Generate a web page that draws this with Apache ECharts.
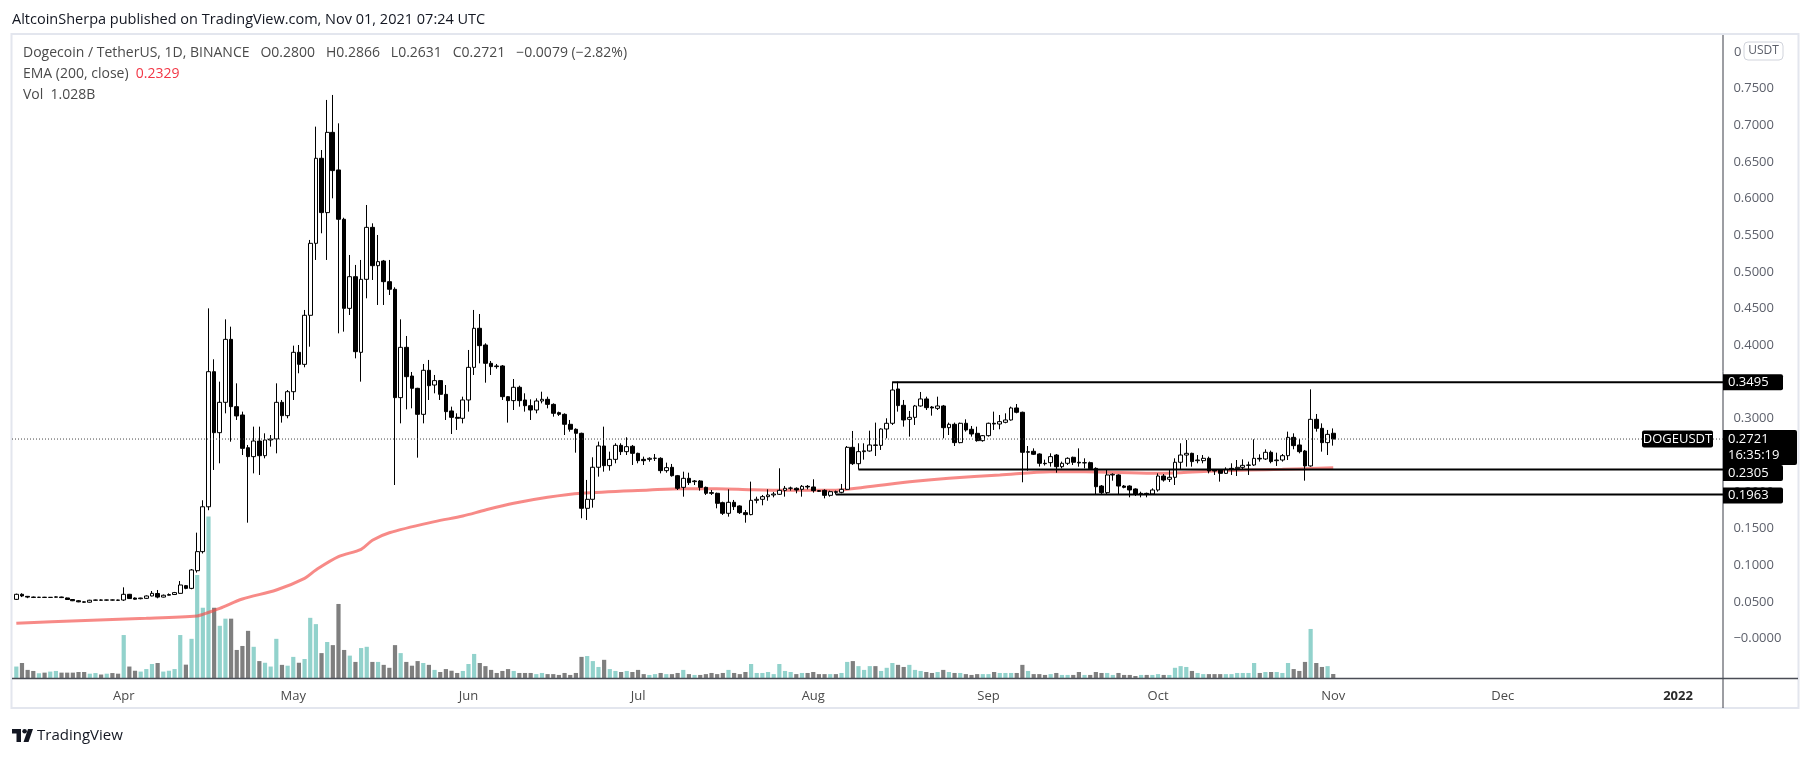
<!DOCTYPE html>
<html><head><meta charset="utf-8">
<script src="https://cdn.jsdelivr.net/npm/echarts@6/dist/echarts.min.js"></script>
<style>html,body{margin:0;padding:0;background:#fff;}#c{width:1813px;height:757px;}</style>
</head><body><div id="c"></div>
<script>
// ---------- data ----------
const startDate = [2021, 2, 13];   // 13 Mar 2021 (first candle)
const totalDays = 302;             // category slots up to 8 Jan 2022
const monthNames = ['Jan','Feb','Mar','Apr','May','Jun','Jul','Aug','Sep','Oct','Nov','Dec'];

const open = [
0.0534,0.0603,0.0575,0.0565,0.0561,0.0563,0.0560,0.0563,0.0566,0.0553,
0.0532,0.0515,0.0500,0.0495,0.0522,0.0525,0.0523,0.0526,0.0524,0.0525,
0.0603,0.0552,0.0543,0.0548,0.0580,0.0614,0.0565,0.0590,0.0600,0.0616,
0.0721,0.0684,0.0925,0.1185,0.1797,0.3640,0.2808,0.3222,0.4081,0.3163,
0.3049,0.2603,0.2481,0.2694,0.2494,0.2708,0.2722,0.3222,0.3040,0.3367,
0.3904,0.3740,0.4409,0.5391,0.6551,0.5810,0.6905,0.6392,0.5719,0.4504,
0.4936,0.3904,0.4900,0.5609,0.5086,0.5150,0.4868,0.4764,0.3286,0.3972,
0.3581,0.3413,0.3058,0.3659,0.3458,0.3518,0.3331,0.3104,0.3017,0.3004,
0.3254,0.3699,0.4232,0.4004,0.3754,0.3718,0.3718,0.3299,0.3245,0.3427,
0.3254,0.3176,0.3117,0.3240,0.3263,0.3194,0.3081,0.3058,0.2922,0.2854,
0.2799,0.1776,0.1899,0.2336,0.2626,0.2358,0.2444,0.2635,0.2549,0.2622,
0.2526,0.2444,0.2444,0.2458,0.2458,0.2290,0.2335,0.2221,0.2062,0.2185,
0.2140,0.2149,0.2062,0.1990,0.1981,0.1853,0.1708,0.1858,0.1808,0.1717,
0.1690,0.1885,0.1899,0.1935,0.1958,0.1967,0.2021,0.2049,0.2049,0.2035,
0.2076,0.2067,0.2017,0.2021,0.1953,0.2003,0.1994,0.2035,0.2608,0.2385,
0.2549,0.2558,0.2640,0.2635,0.2858,0.2936,0.3404,0.3181,0.2990,0.3017,
0.3172,0.3268,0.3158,0.3140,0.3172,0.2876,0.2922,0.2672,0.2936,0.2854,
0.2799,0.2699,0.2767,0.2936,0.2926,0.2949,0.2981,0.3145,0.3086,0.2540,
0.2554,0.2517,0.2390,0.2399,0.2503,0.2344,0.2390,0.2472,0.2404,0.2395,
0.2399,0.2321,0.2080,0.1990,0.2231,0.2231,0.2080,0.2080,0.2040,0.1971,
0.1980,0.1971,0.2026,0.2217,0.2172,0.2199,0.2404,0.2503,0.2526,0.2426,
0.2426,0.2458,0.2299,0.2299,0.2253,0.2312,0.2317,0.2335,0.2362,0.2367,
0.2458,0.2449,0.2540,0.2426,0.2435,0.2494,0.2744,0.2640,0.2558,0.2354,
0.2990,0.2867,0.2672,0.2800];

const high = [
0.0612,0.0617,0.0580,0.0572,0.0568,0.0568,0.0566,0.0575,0.0570,0.0558,
0.0537,0.0525,0.0507,0.0528,0.0530,0.0532,0.0530,0.0532,0.0530,0.0698,
0.0608,0.0560,0.0556,0.0588,0.0648,0.0662,0.0600,0.0615,0.0635,0.0784,
0.0730,0.0948,0.1444,0.1886,0.4504,0.3809,0.3504,0.4354,0.4254,0.3481,
0.3095,0.2640,0.2890,0.2890,0.2799,0.2776,0.3481,0.3254,0.3390,0.3995,
0.4004,0.4482,0.5437,0.6983,0.6664,0.7347,0.7415,0.7028,0.5740,0.5232,
0.5096,0.5164,0.5914,0.5664,0.5505,0.5164,0.5164,0.4791,0.4354,0.4127,
0.3636,0.3420,0.3745,0.3800,0.3595,0.3527,0.3458,0.3163,0.3072,0.3299,
0.3936,0.4482,0.4427,0.4027,0.3786,0.3745,0.3731,0.3308,0.3540,0.3449,
0.3345,0.3263,0.3276,0.3367,0.3299,0.3208,0.3095,0.3072,0.2981,0.2867,
0.2808,0.2163,0.2472,0.2686,0.2890,0.2549,0.2663,0.2663,0.2745,0.2640,
0.2535,0.2481,0.2472,0.2517,0.2472,0.2399,0.2381,0.2231,0.2276,0.2262,
0.2162,0.2162,0.2072,0.2026,0.1990,0.1867,0.2035,0.1890,0.1817,0.1753,
0.2140,0.1935,0.1958,0.2035,0.1999,0.2322,0.2081,0.2072,0.2062,0.2094,
0.2094,0.2172,0.2026,0.2035,0.2017,0.2017,0.2108,0.2626,0.2831,0.2663,
0.2663,0.2835,0.2945,0.2867,0.3004,0.3504,0.3504,0.3254,0.3104,0.3186,
0.3363,0.3299,0.3172,0.3299,0.3186,0.2945,0.2945,0.2945,0.2990,0.2899,
0.2890,0.2776,0.2945,0.3095,0.3049,0.3072,0.3163,0.3199,0.3095,0.2626,
0.2594,0.2526,0.2440,0.2526,0.2517,0.2413,0.2472,0.2481,0.2594,0.2458,
0.2413,0.2335,0.2094,0.2308,0.2253,0.2240,0.2094,0.2090,0.2049,0.2003,
0.1990,0.2049,0.2253,0.2244,0.2299,0.2458,0.2663,0.2708,0.2535,0.2503,
0.2503,0.2481,0.2308,0.2308,0.2335,0.2390,0.2435,0.2444,0.2413,0.2717,
0.2513,0.2581,0.2563,0.2535,0.2517,0.2822,0.2799,0.2722,0.2572,0.3399,
0.3063,0.2935,0.2845,0.2866];

const low = [
0.0525,0.0565,0.0550,0.0552,0.0553,0.0555,0.0554,0.0558,0.0552,0.0528,
0.0510,0.0495,0.0487,0.0490,0.0515,0.0518,0.0515,0.0518,0.0512,0.0512,
0.0540,0.0530,0.0535,0.0540,0.0575,0.0548,0.0560,0.0585,0.0595,0.0610,
0.0672,0.0672,0.0899,0.1160,0.1750,0.2299,0.2390,0.3072,0.2685,0.2981,
0.2503,0.1580,0.2253,0.2231,0.2458,0.2617,0.2526,0.2945,0.3004,0.3254,
0.3618,0.3700,0.3981,0.5164,0.5528,0.5164,0.6005,0.4163,0.4186,0.4413,
0.3822,0.3504,0.4641,0.4891,0.4550,0.4550,0.4686,0.2094,0.2935,0.3126,
0.3140,0.2467,0.2935,0.3254,0.3345,0.3254,0.2981,0.2790,0.2845,0.2935,
0.3095,0.3595,0.3754,0.3490,0.3595,0.3680,0.3254,0.2945,0.3117,0.3163,
0.3095,0.2981,0.3072,0.3208,0.3140,0.3026,0.3036,0.2776,0.2822,0.2535,
0.1640,0.1617,0.1785,0.2208,0.2276,0.2290,0.2390,0.2503,0.2503,0.2367,
0.2390,0.2367,0.2413,0.2422,0.2253,0.2262,0.2208,0.2026,0.1935,0.2094,
0.2094,0.2017,0.1958,0.1958,0.1776,0.1685,0.1662,0.1753,0.1699,0.1580,
0.1681,0.1844,0.1817,0.1880,0.1926,0.1958,0.1935,0.2017,0.1981,0.1935,
0.2035,0.1990,0.1999,0.1912,0.1935,0.1963,0.1981,0.2026,0.2367,0.2305,
0.2440,0.2549,0.2490,0.2572,0.2731,0.2913,0.3095,0.2890,0.2754,0.2913,
0.3163,0.3117,0.3040,0.3117,0.2731,0.2776,0.2626,0.2663,0.2822,0.2754,
0.2685,0.2685,0.2754,0.2845,0.2854,0.2936,0.2972,0.3072,0.2131,0.2290,
0.2503,0.2345,0.2360,0.2344,0.2262,0.2321,0.2367,0.2367,0.2344,0.2321,
0.2299,0.1971,0.1971,0.1971,0.2153,0.1971,0.2049,0.1926,0.1944,0.1926,
0.1926,0.1962,0.2003,0.2140,0.2135,0.2094,0.2299,0.2344,0.2344,0.2390,
0.2390,0.2253,0.2231,0.2140,0.2244,0.2231,0.2217,0.2308,0.2231,0.2354,
0.2413,0.2435,0.2390,0.2354,0.2413,0.2435,0.2581,0.2526,0.2153,0.2344,
0.2822,0.2549,0.2503,0.2631];

const close = [
0.0603,0.0580,0.0565,0.0561,0.0563,0.0560,0.0562,0.0568,0.0558,0.0532,
0.0515,0.0500,0.0495,0.0522,0.0525,0.0523,0.0526,0.0524,0.0522,0.0603,
0.0545,0.0536,0.0552,0.0580,0.0616,0.0565,0.0590,0.0600,0.0626,0.0730,
0.0684,0.0935,0.1185,0.1797,0.3640,0.2808,0.3222,0.4081,0.3163,0.3036,
0.2594,0.2481,0.2694,0.2494,0.2708,0.2722,0.3222,0.3040,0.3367,0.3904,
0.3740,0.4409,0.5391,0.6551,0.5810,0.6905,0.6383,0.5719,0.4504,0.4936,
0.3913,0.4900,0.5609,0.5086,0.5141,0.4868,0.4764,0.3286,0.3972,0.3572,
0.3413,0.3058,0.3659,0.3449,0.3518,0.3331,0.3095,0.3017,0.3004,0.3254,
0.3699,0.4232,0.3995,0.3754,0.3709,0.3709,0.3299,0.3245,0.3427,0.3245,
0.3176,0.3117,0.3240,0.3263,0.3194,0.3072,0.3058,0.2922,0.2854,0.2799,
0.1776,0.1899,0.2336,0.2627,0.2358,0.2444,0.2635,0.2549,0.2617,0.2526,
0.2426,0.2426,0.2458,0.2460,0.2290,0.2331,0.2221,0.2049,0.2185,0.2126,
0.2149,0.2062,0.1981,0.1981,0.1844,0.1708,0.1858,0.1799,0.1717,0.1690,
0.1885,0.1899,0.1935,0.1958,0.1971,0.2021,0.2049,0.2053,0.2026,0.2076,
0.2067,0.2017,0.2008,0.1953,0.2003,0.1994,0.2035,0.2608,0.2385,0.2549,
0.2560,0.2640,0.2635,0.2858,0.2936,0.3390,0.3177,0.2981,0.3017,0.3172,
0.3268,0.3149,0.3145,0.3172,0.2876,0.2922,0.2672,0.2936,0.2845,0.2790,
0.2699,0.2767,0.2936,0.2926,0.2958,0.2981,0.3145,0.3086,0.2540,0.2549,
0.2513,0.2390,0.2385,0.2481,0.2344,0.2390,0.2458,0.2404,0.2395,0.2399,
0.2317,0.2071,0.1990,0.2231,0.2240,0.2080,0.2062,0.2026,0.1971,0.1980,
0.1971,0.2026,0.2217,0.2162,0.2199,0.2404,0.2503,0.2526,0.2413,0.2435,
0.2458,0.2285,0.2285,0.2253,0.2308,0.2321,0.2335,0.2362,0.2367,0.2458,
0.2449,0.2540,0.2413,0.2435,0.2494,0.2744,0.2631,0.2549,0.2354,0.2990,
0.2867,0.2672,0.2785,0.2721];

// volume in billions DOGE
const volume = [
2.8,3.65,2.0,1.75,1.2,1.35,1.6,1.75,1.35,1.35,
1.35,1.5,1.5,1.1,1.25,0.9,1.1,1.25,1.1,10.3,
2.8,1.8,1.6,2.2,3.4,3.65,1.6,1.8,2.2,10.3,
3.25,9.4,24.6,16.8,38.5,16.8,12.5,14.2,14.2,6.75,
7.7,11.3,7.5,4.1,3.7,2.8,9.4,3.2,3.0,5.1,
3.7,4.6,14.4,12.9,6.0,8.65,7.9,17.7,6.75,5.4,
3.9,7.2,7.5,3.9,3.9,3.2,2.5,7.9,6.0,3.9,
3.0,4.1,3.65,3.2,2.0,1.5,2.2,1.8,1.27,1.75,
3.4,5.8,3.65,2.9,2.0,1.27,1.75,2.2,1.75,1.27,
1.27,1.27,1.0,1.27,1.0,1.0,0.8,1.27,0.8,1.27,
5.1,5.3,4.1,2.7,4.4,2.2,1.75,1.5,1.75,1.5,
2.0,1.0,0.8,1.0,1.27,1.0,1.0,1.27,2.0,1.0,
0.8,0.8,1.0,1.27,1.0,1.27,2.0,1.27,1.0,1.5,
3.4,1.27,1.27,1.5,1.0,3.4,1.75,1.5,1.0,1.27,
1.27,1.5,1.0,1.0,1.0,1.0,1.27,3.9,4.1,2.9,
2.0,2.9,2.9,1.75,2.5,3.65,3.2,2.7,3.2,2.0,
1.75,1.5,1.27,1.5,2.0,1.5,1.27,1.27,1.0,0.8,
1.0,1.0,1.0,1.5,1.27,1.27,1.27,1.27,3.2,1.75,
1.0,1.0,0.8,1.0,1.27,0.8,0.8,0.8,1.5,0.8,
0.8,1.5,1.27,1.27,0.8,1.27,0.8,0.8,0.55,0.8,
0.8,0.8,1.0,0.8,0.8,2.5,2.9,2.7,1.75,1.27,
1.0,1.0,1.0,1.0,1.0,1.0,1.27,1.27,1.27,3.65,
1.27,1.5,1.5,1.5,1.27,3.65,2.2,1.75,3.9,11.75,
3.65,2.7,2.9,1.028];

// EMA(200): [candle index, value]
const emaPoints = [[0,0.0207],[11,0.0243],[23,0.0275],[32,0.0307],[33,0.0330],[36,0.0412],[40,0.0539],
[46,0.0662],[51,0.0821],[53,0.0935],[57,0.1116],[61,0.1217],[63,0.1340],[66,0.1443],[74,0.1594],
[79,0.1671],[83,0.1753],[88,0.1844],[94,0.1926],[100,0.1981],[112,0.2026],[118,0.2044],[124,0.2044],
[130,0.2030],[136,0.2022],[145,0.2022],[150,0.2063],[159,0.2145],[165,0.2186],[174,0.2230],[183,0.2276],
[189,0.2276],[201,0.2254],[206,0.2262],[212,0.2285],[218,0.2299],[224,0.2308],[233,0.2329]];

// horizontal rays: price level, start candle index
const levelPrices = [0.3495, 0.2305, 0.1963];
const levelStarts = [155, 149, 145];
const lastPrice = 0.2721, countdown = '16:35:19', symbolName = 'DOGEUSDT';
const headerText = 'AltcoinSherpa published on TradingView.com, Nov 01, 2021 07:24 UTC';

// ---------- chart ----------
const dates = [];
{
  const t0 = Date.UTC(startDate[0], startDate[1], startDate[2]);
  for (let i = 0; i < totalDays; i++) dates.push(new Date(t0 + i * 86400000).toISOString().slice(0, 10));
}
const FONT = '"Open Sans", "Noto Sans", sans-serif';
const candleData = open.map((o, i) => [o, close[i], low[i], high[i]]);
const volData = volume.map((v, i) => ({ value: v, itemStyle: { color: close[i] >= open[i] ? '#92d2cc' : '#7f7f7f' } }));
const emaData = emaPoints.map(p => [dates[p[0]], p[1]]);

const chart = echarts.init(document.getElementById('c'));
const GL = 13.5, GR = 92.6;
chart.setOption({
  animation: false,
  backgroundColor: '#ffffff',
  grid: [
    { left: GL, right: GR, top: 35, bottom: 81.85 },
    { left: GL, right: GR, top: 258.3, bottom: 78.7 }
  ],
  xAxis: [
    { type: 'category', data: dates, gridIndex: 0, boundaryGap: true, show: false },
    { type: 'category', data: dates, gridIndex: 1, boundaryGap: true,
      axisLine: { show: false }, axisTick: { show: false }, splitLine: { show: false },
      axisLabel: {
        interval: (i, v) => v.slice(8) === '01',
        formatter: v => { const m = +v.slice(5, 7); return m === 1 ? '{y|' + v.slice(0, 4) + '}' : monthNames[m - 1]; },
        margin: 11, color: '#4a4a4a', fontSize: 13, fontFamily: FONT,
        rich: { y: { fontWeight: 'bold', fontSize: 13, color: '#2a2a2a', fontFamily: FONT } }
      } }
  ],
  yAxis: [
    { type: 'value', gridIndex: 0, position: 'right', min: -0.05, max: 0.8233, interval: 0.05,
      splitLine: { show: false }, axisLine: { show: false }, axisTick: { show: false },
      axisLabel: { margin: 13, color: '#5d606b', fontSize: 13, fontFamily: FONT, showMaxLabel: false,
        formatter: v => (v < -0.01 || v > 0.79 ? '' : (Math.abs(v) < 1e-9 ? '\u22120.0000' : v.toFixed(4))) } },
    { type: 'value', gridIndex: 1, min: 0, max: 100, show: false }
  ],
  series: [
    { name: 'Vol', type: 'bar', xAxisIndex: 1, yAxisIndex: 1, data: volData, barWidth: 4.2, z: 1 },
    { name: 'EMA', type: 'line', xAxisIndex: 0, yAxisIndex: 0, data: emaData, smooth: 0.3,
      symbol: 'none', lineStyle: { color: 'rgba(243,75,70,0.65)', width: 3 }, z: 2 },
    { name: 'DOGEUSDT', type: 'candlestick', xAxisIndex: 0, yAxisIndex: 0, data: candleData, barWidth: 4.2,
      itemStyle: { color: '#ffffff', color0: '#000000', borderColor: '#000000', borderColor0: '#000000', borderWidth: 1 }, z: 3 }
  ]
});

// ---------- overlay drawn from the axes ----------
const yP = v => chart.convertToPixel({ yAxisIndex: 0 }, v);
const xP = i => chart.convertToPixel({ xAxisIndex: 0 }, dates[i]);
const AX = 1723;
const g = [];
g.push({ type: 'rect', silent: true, z: 0, shape: { x: 11.5, y: 34, width: 1787, height: 674 }, style: { fill: 'none', stroke: '#e3e6ee', lineWidth: 2 } });
g.push({ type: 'line', silent: true, z: 5, shape: { x1: AX, y1: 35, x2: AX, y2: 708 }, style: { stroke: '#3a3d46', lineWidth: 1 } });
g.push({ type: 'line', silent: true, z: 5, shape: { x1: 12, y1: 678.5, x2: 1798, y2: 678.5 }, style: { stroke: '#4a4d56', lineWidth: 1.5 } });
// last price dotted line
const yLast = yP(lastPrice);
g.push({ type: 'line', silent: true, z: 4, shape: { x1: 12, y1: yLast, x2: AX, y2: yLast }, style: { stroke: '#444', lineWidth: 1, lineDash: [1, 2] } });
// rays
levelPrices.forEach((p, k) => {
  const y = yP(p);
  g.push({ type: 'line', silent: true, z: 6, shape: { x1: xP(levelStarts[k]), y1: y, x2: AX, y2: y }, style: { stroke: '#000', lineWidth: 2 } });
});
// price labels on the scale
const labelOffsets = [0, 3.5, 1];
levelPrices.forEach((p, k) => {
  const yc = yP(p) + labelOffsets[k];
  g.push({ type: 'rect', silent: true, z: 20, shape: { x: AX, y: yc - 8, width: 60, height: 16, r: [0, 2, 2, 0] }, style: { fill: '#000' } });
  g.push({ type: 'text', silent: true, z: 21, style: { x: AX + 5, y: yc, text: p.toFixed(4), fill: '#fff', font: '13px ' + FONT, textVerticalAlign: 'middle' } });
});
g.push({ type: 'rect', silent: true, z: 22, shape: { x: AX, y: yLast - 9, width: 74, height: 35, r: [0, 2, 2, 0] }, style: { fill: '#000' } });
g.push({ type: 'text', silent: true, z: 23, style: { x: AX + 5, y: yLast, text: lastPrice.toFixed(4), fill: '#fff', font: '13px ' + FONT, textVerticalAlign: 'middle' } });
g.push({ type: 'text', silent: true, z: 23, style: { x: AX + 5, y: yLast + 16.5, text: countdown, fill: '#fff', font: '13px ' + FONT, textVerticalAlign: 'middle' } });
g.push({ type: 'rect', silent: true, z: 22, shape: { x: 1642, y: yLast - 8.5, width: 71, height: 17, r: 2 }, style: { fill: '#000' } });
g.push({ type: 'text', silent: true, z: 23, style: { x: 1677.5, y: yLast, text: symbolName, fill: '#fff', font: '13px ' + FONT, textAlign: 'center', textVerticalAlign: 'middle' } });
// top scale label partly covered by the currency box
g.push({ type: 'text', silent: true, z: 21, style: { x: 1734, y: yP(0.8), text: '0', fill: '#5d606b', font: '13px ' + FONT, textVerticalAlign: 'middle' } });
g.push({ type: 'rect', silent: true, z: 22, shape: { x: 1744, y: 42, width: 39, height: 18, r: 4 }, style: { fill: '#fff', stroke: '#d1d4dc', lineWidth: 1 } });
g.push({ type: 'text', silent: true, z: 23, style: { x: 1763.5, y: 51, text: 'USDT', fill: '#5d606b', font: '12px ' + FONT, textAlign: 'center', textVerticalAlign: 'middle' } });
// header & legend
g.push({ type: 'text', silent: true, z: 10, style: { x: 12, y: 20, text: headerText, fill: '#131722', font: '14.5px ' + FONT, textVerticalAlign: 'middle' } });
const legFont = '14px ' + FONT;
g.push({ type: 'text', silent: true, z: 10, style: { x: 23, y: 53, textVerticalAlign: 'middle', fill: '#4a4a4a', font: legFont,
  text: 'Dogecoin / TetherUS, 1D, BINANCE   O0.2800   H0.2866   L0.2631   C0.2721   \u22120.0079 (\u22122.82%)' } });
g.push({ type: 'text', silent: true, z: 10, style: { x: 23, y: 74, textVerticalAlign: 'middle', font: legFont,
  text: '{a|EMA (200, close)}  {b|0.2329}', rich: { a: { fill: '#4a4a4a', font: legFont }, b: { fill: '#f23645', font: legFont } } } });
g.push({ type: 'text', silent: true, z: 10, style: { x: 23, y: 95, textVerticalAlign: 'middle', fill: '#4a4a4a', font: legFont, text: 'Vol  1.028B' } });
// footer logo
g.push({ type: 'rect', silent: true, shape: { x: 12, y: 729, width: 9, height: 4.5 }, style: { fill: '#131722' } });
g.push({ type: 'rect', silent: true, shape: { x: 16.5, y: 729, width: 4.5, height: 13 }, style: { fill: '#131722' } });
g.push({ type: 'circle', silent: true, shape: { cx: 24.6, cy: 731.3, r: 2.3 }, style: { fill: '#131722' } });
g.push({ type: 'polygon', silent: true, shape: { points: [[28, 729], [33, 729], [28.5, 742], [23.5, 742]] }, style: { fill: '#131722' } });
g.push({ type: 'text', silent: true, style: { x: 37, y: 735.5, text: 'TradingView', fill: '#131722', font: '15px ' + FONT, textVerticalAlign: 'middle' } });
chart.setOption({ graphic: g });
</script></body></html>
